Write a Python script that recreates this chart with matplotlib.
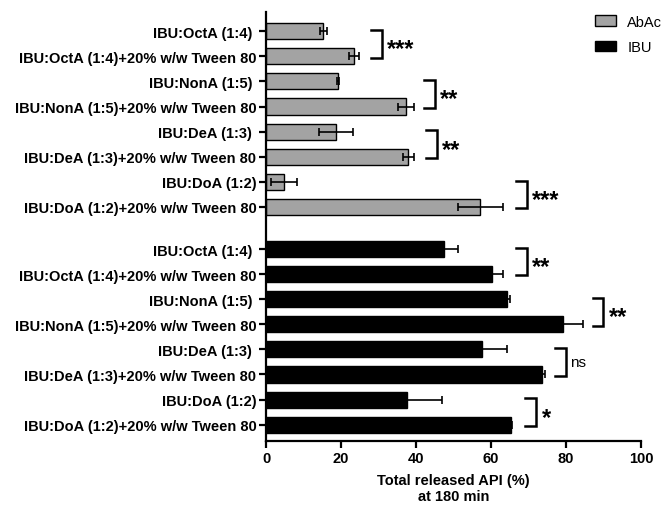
import numpy as np
import matplotlib.pyplot as plt
from matplotlib.patches import Patch

plt.rcParams['font.family'] = ['Liberation Sans', 'DejaVu Sans']

# labels top to bottom within each group
labels = ['IBU:OctA (1:4)\u00a0', 'IBU:OctA (1:4)+20% w/w Tween 80',
          'IBU:NonA (1:5)\u00a0', 'IBU:NonA (1:5)+20% w/w Tween 80',
          'IBU:DeA (1:3)\u00a0', 'IBU:DeA (1:3)+20% w/w Tween 80',
          'IBU:DoA (1:2)', 'IBU:DoA (1:2)+20% w/w Tween 80']

abac_vals = [15.3, 23.5, 19.3, 37.3, 18.7, 38.0, 4.8, 57.1]
abac_err = [0.9, 1.3, 0.3, 2.2, 4.6, 1.5, 3.5, 6.0]
ibu_vals = [47.6, 60.4, 64.2, 79.3, 57.7, 73.6, 37.7, 65.3]
ibu_err = [3.6, 2.9, 0.9, 5.2, 6.7, 0.8, 9.3, 0.3]

# significance per pair (bracket x, text)
abac_sig = [(28.0, '***'), (42.1, '**'), (42.6, '**'), (66.6, '***')]
ibu_sig = [(66.6, '**'), (87.1, '**'), (77.1, 'ns'), (69.2, '*')]

fig = plt.figure(figsize=(6.66, 5.06), dpi=100)
ax = fig.add_axes([0.3994, 0.1265, 0.563, 0.8475])

pos_a = np.arange(8)
pos_i = np.arange(8) + 8.68
h = 0.64

ax.barh(pos_a, abac_vals, height=h, color='#a3a3a3', edgecolor='black',
        linewidth=1.0, label='AbAc')
ax.errorbar(abac_vals, pos_a, xerr=abac_err, fmt='none', ecolor='black',
            elinewidth=1.2, capsize=3, capthick=1.2)
ax.barh(pos_i, ibu_vals, height=h, color='black', edgecolor='black',
        linewidth=1.0, label='IBU')
ax.errorbar(ibu_vals, pos_i, xerr=ibu_err, fmt='none', ecolor='black',
            elinewidth=1.2, capsize=3, capthick=1.2)

def bracket(x, y1, y2, txt):
    w = 2.9
    ax.plot([x, x + w, x + w, x], [y1, y1, y2, y2], color='black', lw=1.8,
            solid_joinstyle='miter', clip_on=False)
    if txt == 'ns':
        ax.text(x + w + 1.2, (y1 + y2) / 2, txt, fontsize=11,
                va='center', ha='left')
    else:
        ax.text(x + w + 1.4, (y1 + y2) / 2 + 0.2, txt,
                fontsize=17, fontweight='bold', va='center', ha='left')

for k, (x, t) in enumerate(abac_sig):
    bracket(x, pos_a[2 * k] - 0.05, pos_a[2 * k + 1] + 0.05, t)
for k, (x, t) in enumerate(ibu_sig):
    bracket(x, pos_i[2 * k] - 0.05, pos_i[2 * k + 1] + 0.05, t)

ax.set_yticks(np.concatenate([pos_a, pos_i]))
ax.set_yticklabels(labels + labels, fontsize=10.5, fontweight='bold')
ax.set_ylim(16.33, -0.76)
ax.set_xlim(0, 100)
ax.set_xticks([0, 20, 40, 60, 80, 100])
ax.set_xticklabels(['0', '20', '40', '60', '80', '100'], fontsize=10.5,
                   fontweight='bold')
ax.set_xlabel('Total released API (%)\nat 180 min', fontsize=10.5,
              fontweight='bold', labelpad=6)

for s in ['top', 'right']:
    ax.spines[s].set_visible(False)
for s in ['left', 'bottom']:
    ax.spines[s].set_linewidth(1.6)
ax.tick_params(axis='both', width=1.6, length=5, pad=2)

handles = [Patch(facecolor='#a3a3a3', edgecolor='black', linewidth=1.0),
           Patch(facecolor='black', edgecolor='black', linewidth=1.0)]
fig.legend(handles, ['AbAc', 'IBU'], loc='upper right',
           bbox_to_anchor=(1.014, 0.995), frameon=False, fontsize=10.5,
           handlelength=1.4, handleheight=0.7, labelspacing=0.8,
           handletextpad=0.8)

fig.savefig('out.png', dpi=100)
